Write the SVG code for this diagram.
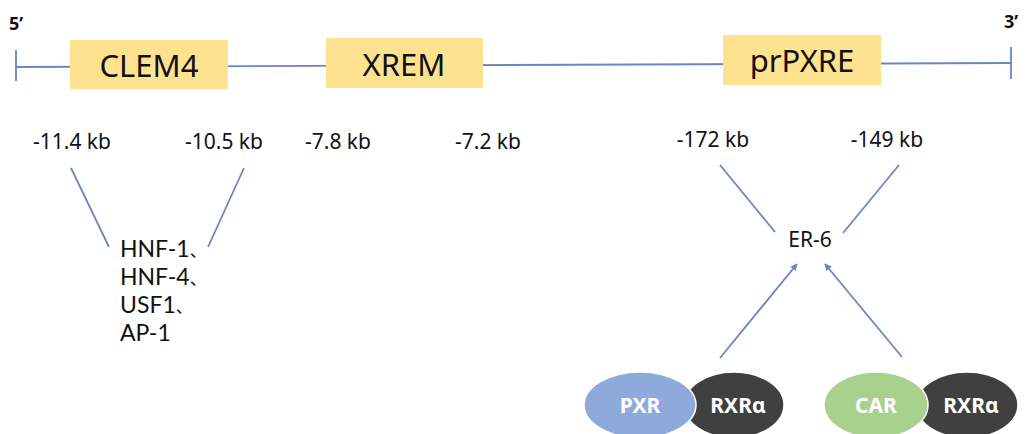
<svg xmlns="http://www.w3.org/2000/svg" width="1026" height="434" viewBox="0 0 1026 434">
<defs>
<style>
.ln{stroke:#6b84c4;stroke-width:1.8;fill:none}
.box{fill:#ffe28f}
.bt{font-family:"Noto Sans","Open Sans",sans-serif;font-size:31px;fill:#111;text-anchor:middle}
.lb{font-family:"Noto Sans","Open Sans",sans-serif;font-size:21px;fill:#111;text-anchor:middle}
.tf{font-family:Lato,"Noto Sans",sans-serif;font-size:23px;fill:#111}
.cm{font-family:"Noto Sans CJK SC",sans-serif;font-size:17px}
.end{font-family:"Noto Sans","Open Sans",sans-serif;font-size:18px;font-weight:bold;fill:#111}
.et{font-family:"Noto Sans","Open Sans",sans-serif;font-size:21px;font-weight:bold;fill:#fff;text-anchor:middle}
</style>
<marker id="ah" viewBox="0 0 10 10" refX="9" refY="5" markerWidth="7" markerHeight="7" orient="auto" markerUnits="userSpaceOnUse">
<path d="M0,0 L10,5 L0,10 z" fill="#6b84c4"/>
</marker>
</defs>
<rect width="1026" height="434" fill="#fff"/>
<g id="connectors">
<line class="ln" x1="16" y1="67" x2="1011" y2="63"/>
<line class="ln" x1="16" y1="50" x2="16" y2="81"/>
<line class="ln" x1="1011" y1="47" x2="1011" y2="79"/>
<line class="ln" x1="71" y1="168" x2="109" y2="247"/>
<line class="ln" x1="244" y1="168" x2="208" y2="247"/>
<line class="ln" x1="720" y1="165" x2="775" y2="232"/>
<line class="ln" x1="899" y1="165" x2="843" y2="233"/>
<line class="ln" x1="720" y1="358" x2="797" y2="264" marker-end="url(#ah)"/>
<line class="ln" x1="902" y1="357" x2="825" y2="264" marker-end="url(#ah)"/>
</g>
<g id="end5"><text class="end" x="9" y="30">5’</text></g>
<g id="end3"><text class="end" x="1004" y="28">3’</text></g>
<g id="clem4"><rect class="box" x="70" y="40" width="158" height="49"/><text class="bt" x="149" y="77">CLEM4</text></g>
<g id="xrem"><rect class="box" x="326" y="38" width="157" height="50"/><text class="bt" x="404" y="76">XREM</text></g>
<g id="prpxre"><rect class="box" x="723" y="35" width="158" height="50"/><text class="bt" x="802" y="72">prPXRE</text></g>
<g id="labels">
<text class="lb" x="72" y="149">-11.4 kb</text>
<text class="lb" x="224" y="149">-10.5 kb</text>
<text class="lb" x="338" y="149">-7.8 kb</text>
<text class="lb" x="488" y="149">-7.2 kb</text>
<text class="lb" x="713" y="147">-172 kb</text>
<text class="lb" x="887" y="147">-149 kb</text>
</g>
<g id="factors">
<text class="tf" x="120" y="257">HNF-1<tspan class="cm">、</tspan></text>
<text class="tf" x="120" y="285">HNF-4<tspan class="cm">、</tspan></text>
<text class="tf" x="120" y="313">USF1<tspan class="cm">、</tspan></text>
<text class="tf" x="120" y="341">AP-1</text>
</g>
<g id="er6"><text class="lb" x="810" y="247" font-size="23">ER-6</text></g>
<g id="pxr-rxr">
<ellipse cx="734" cy="405" rx="50" ry="33" fill="#404040" stroke="#fff" stroke-width="1.5"/>
<ellipse cx="640" cy="405" rx="56" ry="33" fill="#8eaadb" stroke="#fff" stroke-width="1.5"/>
<text class="et" x="640" y="413">PXR</text>
<text class="et" x="738" y="413">RXRα</text>
</g>
<g id="car-rxr">
<ellipse cx="967" cy="405" rx="51" ry="33" fill="#404040" stroke="#fff" stroke-width="1.5"/>
<ellipse cx="876" cy="405" rx="52" ry="33" fill="#a9d18e" stroke="#fff" stroke-width="1.5"/>
<text class="et" x="876" y="413">CAR</text>
<text class="et" x="971" y="413">RXRα</text>
</g>
</svg>
